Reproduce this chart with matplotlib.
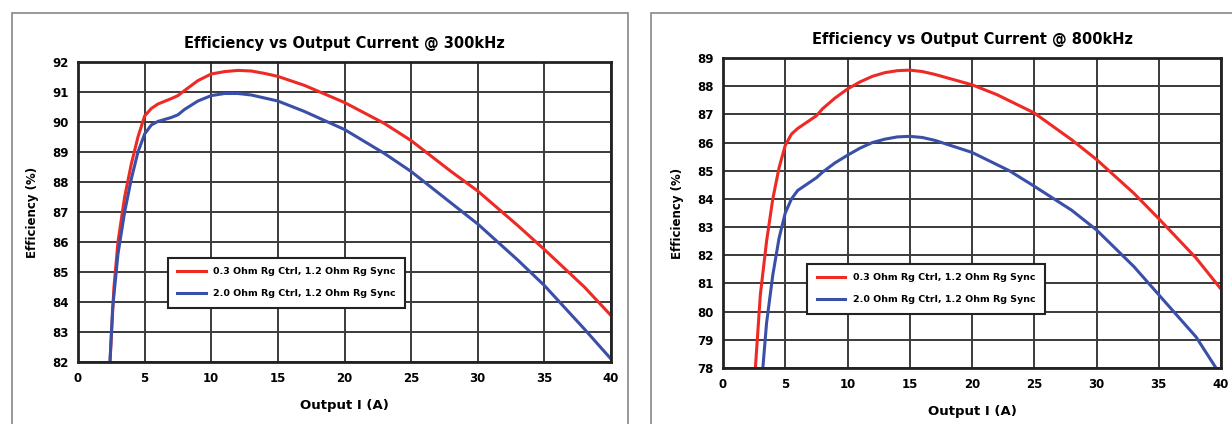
import matplotlib
matplotlib.use('Agg')
import matplotlib.pyplot as plt
from matplotlib.patches import Rectangle

plt.rcParams['font.family'] = ['Liberation Sans Narrow', 'DejaVu Sans Condensed', 'DejaVu Sans']
plt.rcParams['font.weight'] = 'bold'

label_red = '0.3 Ohm Rg Ctrl, 1.2 Ohm Rg Sync'
label_blue = '2.0 Ohm Rg Ctrl, 1.2 Ohm Rg Sync'

# 300 kHz
x300_red = [2.4, 2.7, 3.0, 3.5, 4.0, 4.5, 5.0, 5.5, 6.0, 7.0, 7.5, 8.0, 9.0, 10.0, 11.0, 12.0, 13.0, 14.0, 15.0,
            17.0, 20.0, 23.0, 25.0, 28.0, 30.0, 33.0, 35.0, 38.0, 40.0]
y300_red = [82.0, 84.5, 86.0, 87.5, 88.6, 89.5, 90.2, 90.45, 90.6, 90.78, 90.88, 91.05, 91.38, 91.6, 91.68, 91.72,
            91.7, 91.62, 91.52, 91.22, 90.65, 89.95, 89.38, 88.35, 87.7, 86.55, 85.75, 84.5, 83.55]
x300_blue = [2.4, 2.6, 3.0, 3.5, 4.0, 4.5, 5.0, 5.5, 6.0, 7.0, 7.5, 8.0, 9.0, 10.0, 11.0, 12.0, 13.0, 14.0, 15.0,
             17.0, 20.0, 23.0, 25.0, 28.0, 30.0, 33.0, 35.0, 38.0, 40.0]
y300_blue = [82.0, 83.8, 85.6, 87.0, 88.1, 89.0, 89.6, 89.9, 90.02, 90.15, 90.24, 90.42, 90.7, 90.88, 90.95, 90.95,
             90.9, 90.8, 90.7, 90.35, 89.75, 88.95, 88.35, 87.3, 86.6, 85.4, 84.55, 83.1, 82.1]

# 800 kHz
x800_red = [2.6, 3.0, 3.5, 4.0, 4.5, 5.0, 5.5, 6.0, 7.0, 7.5, 8.0, 9.0, 10.0, 11.0, 12.0, 13.0, 14.0, 15.0, 16.0,
            17.0, 20.0, 22.0, 25.0, 28.0, 30.0, 33.0, 35.0, 38.0, 40.0]
y800_red = [78.0, 80.6, 82.5, 84.0, 85.1, 85.9, 86.3, 86.5, 86.8, 86.95, 87.2, 87.58, 87.9, 88.15, 88.35, 88.48,
            88.55, 88.57, 88.52, 88.42, 88.05, 87.7, 87.05, 86.1, 85.4, 84.2, 83.3, 81.9, 80.8]
x800_blue = [3.2, 3.5, 4.0, 4.5, 5.0, 5.5, 6.0, 7.0, 7.5, 8.0, 9.0, 10.0, 11.0, 12.0, 13.0, 14.0, 15.0, 16.0,
             17.0, 20.0, 23.0, 25.0, 28.0, 30.0, 33.0, 35.0, 38.0, 39.6]
y800_blue = [78.0, 79.6, 81.3, 82.6, 83.5, 84.0, 84.3, 84.6, 84.75, 84.95, 85.28, 85.55, 85.8, 86.0, 86.12, 86.2,
             86.22, 86.18, 86.08, 85.65, 85.0, 84.45, 83.6, 82.9, 81.6, 80.6, 79.1, 78.0]

W, H = 1232, 424
fig = plt.figure(figsize=(W / 100, H / 100), dpi=100)

# panel frames
fig.patches.append(Rectangle((12 / W, -0.1), 616 / W, 1.1 - 13 / H, transform=fig.transFigure,
                             fill=False, edgecolor='#888888', linewidth=1.2))
fig.patches.append(Rectangle((651 / W, -0.1), 600 / W, 1.1 - 13 / H, transform=fig.transFigure,
                             fill=False, edgecolor='#888888', linewidth=1.2))


def panel(rect, title, xr, yr, xb, yb, ymin, ymax, leg_anchor, xpad):
    ax = fig.add_axes(rect)
    ax.plot(xr, yr, color='#ee2a24', linewidth=2.2, label=label_red)
    ax.plot(xb, yb, color='#3a4fa8', linewidth=2.2, label=label_blue)
    ax.set_xlim(0, 40)
    ax.set_ylim(ymin, ymax)
    ax.set_xticks(range(0, 41, 5))
    ax.set_yticks(range(ymin, ymax + 1))
    ax.grid(True, color='#3a3a3a', linewidth=1.4)
    ax.set_axisbelow(True)
    for s in ax.spines.values():
        s.set_linewidth(2)
        s.set_color('#222222')
    ax.tick_params(length=0, labelsize=8.5, pad=7)
    ax.set_title(title, fontsize=10.5, fontweight='bold', pad=10)
    ax.set_xlabel('Output I (A)', fontsize=9.5, fontweight='bold', labelpad=xpad)
    ax.set_ylabel('Efficiency (%)', fontsize=8.5, fontweight='bold', labelpad=9)
    leg = ax.legend(loc='lower left', bbox_to_anchor=leg_anchor, fontsize=6.8, frameon=True,
                    fancybox=False, edgecolor='#222222', framealpha=1, handlelength=3.0,
                    borderpad=1.0, labelspacing=1.4)
    leg.get_frame().set_linewidth(1.5)
    return ax


panel([78 / W, 1 - 362 / H, 533 / W, 300 / H], 'Efficiency vs Output Current @ 300kHz',
      x300_red, y300_red, x300_blue, y300_blue, 82, 92, (0.16, 0.165), 10)
panel([723 / W, 1 - 368 / H, 498 / W, 310 / H], 'Efficiency vs Output Current @ 800kHz',
      x800_red, y800_red, x800_blue, y800_blue, 78, 89, (0.16, 0.16), 10)

fig.savefig('out.png', dpi=100)
